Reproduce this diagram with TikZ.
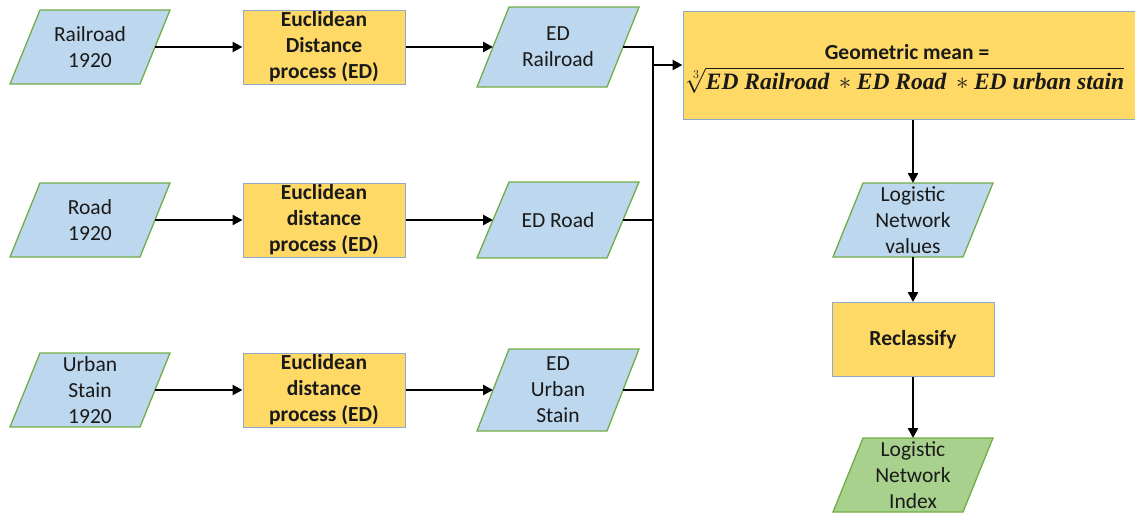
\documentclass[tikz,border=0pt]{standalone}
\usepackage{fontspec}
\setmainfont{Carlito}
\newfontfamily\fml{Liberation Serif}
\usetikzlibrary{arrows.meta,calc,backgrounds}
\definecolor{bluefill}{HTML}{BDD7EE}
\definecolor{greenline}{HTML}{70AD47}
\definecolor{yellowfill}{HTML}{FFD966}
\definecolor{boxline}{HTML}{8FA7C8}
\definecolor{greenfill}{HTML}{A9D18E}
\definecolor{txtcol}{HTML}{1A1A1A}
\newcommand\paral[3]{%
  \filldraw[fill=#2, draw=greenline, line width=1.3pt, line join=miter]
    ($(#1.north west)+(#3,0)$) -- ($(#1.north east)+(#3,0)$) --
    ($(#1.south east)-(#3,0)$) -- ($(#1.south west)-(#3,0)$) -- cycle;}
\newcommand\fterm[1]{\mbox{\fml\bfseries\itshape #1}}
\begin{document}
\begin{tikzpicture}[x=1pt,y=-1pt,
  txt/.style={font=\fontsize{21.5}{26}\selectfont, align=center, text=txtcol},
  para/.style={txt, rectangle, inner sep=0pt, outer sep=0pt, minimum width=130pt, minimum height=74pt},
  proc/.style={txt, font=\fontsize{21.5}{26}\selectfont\bfseries, rectangle, draw=boxline,
    line width=1pt, fill=yellowfill, minimum width=162pt, minimum height=74pt, inner sep=0pt},
  conn/.style={line width=2.5pt, black},
  arr/.style={conn, -{Triangle[length=10pt,width=10pt]}}]
\useasboundingbox (0,0) rectangle (1135,514);
\clip (0,0) rectangle (1135,514);

% inputs
\node[para] (in1) at (90,47) {Railroad\\1920};
\node[para] (in2) at (90,220) {Road\\1920};
\node[para] (in3) at (90,390) {Urban\\Stain\\1920};

% processes
\node[proc] (p1) at (324,47) {Euclidean\\Distance\\process (ED)};
\node[proc] (p2) at (324,220) {Euclidean\\distance\\process (ED)};
\node[proc] (p3) at (324,390) {Euclidean\\distance\\process (ED)};

% ED outputs
\node[para, minimum height=80pt] (ed1) at (558,47) {ED\\Railroad};
\node[para, minimum height=76pt] (ed2) at (558,220) {ED Road};
\node[para, minimum height=82pt] (ed3) at (558,390) {ED\\Urban\\Stain};

% geometric mean
\node[rectangle, draw=boxline, fill=yellowfill, line width=1pt, minimum width=456pt,
  minimum height=108pt, inner sep=0pt] (gm) at (911,65) {};
\node[txt, font=\fontsize{21.5}{26}\selectfont\bfseries] (gmt) at (907,52) {Geometric mean =};
\node[anchor=west, inner sep=0pt, font=\fontsize{23.5}{28}\selectfont, text=txtcol] (gmf) at (686,80)
  {$\sqrt[3]{\fterm{ED Railroad}\,\ast\fterm{ED Road}\,\ast\fterm{ED urban stain}}$};

% right column
\node[para] (lnv) at (913,220) {Logistic\\Network\\values};
\node[proc] (rec) at (913,339.5) {Reclassify};
\node[para] (lni) at (913,475) {Logistic\\Network\\Index};

\begin{pgfonlayer}{background}
  \paral{in1}{bluefill}{15}
  \paral{in2}{bluefill}{15}
  \paral{in3}{bluefill}{15}
  \paral{ed1}{bluefill}{16}
  \paral{ed2}{bluefill}{16}
  \paral{ed3}{bluefill}{16}
  \paral{lnv}{bluefill}{15}
  \paral{lni}{greenfill}{15}
\end{pgfonlayer}

% connectors
\draw[arr] (in1.east) -- (p1.west);
\draw[arr] (in2.east) -- (p2.west);
\draw[arr] (in3.east) -- (p3.west);
\draw[arr] (p1.east) -- (ed1.west);
\draw[arr] (p2.east) -- (ed2.west);
\draw[arr] (p3.east) -- (ed3.west);
\coordinate (jn) at (653,65);
\draw[conn] (ed1.east) -| (jn);
\draw[conn] (ed2.east) -| (jn);
\draw[conn] (ed3.east) -| (jn);
\draw[arr] (jn) -- (gm.west);
\draw[arr] (gm.south -| lnv.north) -- (lnv.north);
\draw[arr] (lnv.south) -- (rec.north);
\draw[arr] (rec.south) -- (lni.north);
\end{tikzpicture}
\end{document}
